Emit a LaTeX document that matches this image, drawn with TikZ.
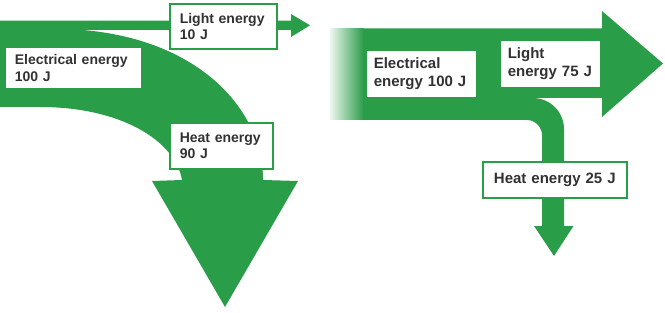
\documentclass[tikz,border=0pt]{standalone}
\usepackage{fontspec}
\setmainfont{Liberation Sans}
\definecolor{eg}{RGB}{42,157,73}
\definecolor{tx}{RGB}{50,50,50}
\tikzset{
  lbl/.style={draw=eg, line width=1.6pt, fill=white, rectangle, anchor=north west,
    inner xsep=10pt, inner ysep=0pt, align=left, text=tx},
  fl/.style={font=\bfseries\fontsize{14}{16.5}\selectfont},
  fr/.style={font=\bfseries\fontsize{15}{18}\selectfont},
  band/.style={fill=eg, draw=none}
}
\begin{document}
\begin{tikzpicture}[x=1pt,y=-1pt]
\useasboundingbox (0,0) rectangle (665,313);
% ---------- left diagram ----------
\path[band] (0,20.7) -- (291,20.7) -- (291,14) -- (310,25.3) -- (291,37) -- (291,30)
  -- (83,30) .. controls (200,40) and (263,110) .. (263,180)
  -- (298,181) -- (225,307) -- (152,181) -- (182,180)
  .. controls (175,140) and (120,107) .. (40,107)
  -- (0,107) -- cycle;
\node[lbl,fl,text width=87pt,minimum height=45pt] (light1) at (169,3) {Light energy\\10 J};
\node[lbl,fl,text width=117pt,minimum height=42pt] (elec1) at (4,46) {Electrical energy\\100 J};
\node[lbl,fl,text width=83pt,minimum height=46pt] (heat1) at (169,122) {Heat energy\\90 J};
% ---------- right diagram ----------
\shade[left color=eg!8, right color=eg] (330,28.3) rectangle (363.5,120);
\path[band] (363,28.3) -- (602,28.3) -- (602,11) -- (663,63.5) -- (602,117) -- (602,98)
  -- (533,98) .. controls (550,98) and (564,112) .. (564,129)
  -- (564,226) -- (573.5,226) -- (554,256) -- (534,226) -- (542,226)
  -- (542,135) .. controls (542,127) and (535,120) .. (527,120)
  -- (363,120) -- cycle;
\node[lbl,fr,inner xsep=8pt,text width=95pt,minimum height=48pt] (elec2) at (365,49) {Electrical\\energy 100 J};
\node[lbl,fr,inner xsep=8pt,text width=85pt,minimum height=48pt] (light2) at (499,39) {Light\\energy 75 J};
\node[lbl,fr,align=center,text width=124pt,minimum height=36pt] (heat2) at (482,161) {Heat energy 25 J};
\end{tikzpicture}
\end{document}
